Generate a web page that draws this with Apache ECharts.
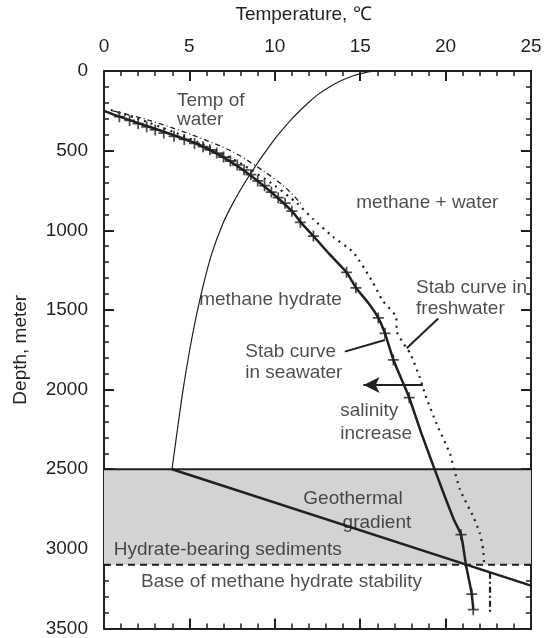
<!DOCTYPE html>
<html><head><meta charset="utf-8">
<script src="https://cdn.jsdelivr.net/npm/echarts@6/dist/echarts.min.js"></script>
<style>html,body{margin:0;padding:0;background:#fff}#c{width:552px;height:638px}</style>
</head><body><div id="c"></div>
<script>
// ---- data (temperature °C, depth m) ----
const waterTemp = [[15.9,0],[15.3,10],[14.6,30],[13.9,60],[13.2,100],[12.5,150],[11.85,210],[11.0,300],[10.2,400],[9.5,500],[8.85,600],[8.25,700],[7.6,820],[6.95,960],[6.3,1150],[5.8,1350],[5.38,1550],[5.02,1750],[4.63,2000],[4.3,2250],[3.98,2500]];
const seawaterCurve = [[0,250],[1,290],[2.5,345],[4,400],[5.5,460],[6.8,530],[8,610],[9,690],[10,780],[11,880],[11.6,960],[12.26,1036],[13.2,1150],[14.2,1264],[14.75,1361],[15.5,1460],[16.06,1550],[16.45,1647],[16.94,1813],[17.4,1930],[17.87,2051],[18.6,2280],[19.38,2507],[19.96,2673],[20.5,2820],[20.9,2911],[21.2,3104],[21.53,3284],[21.62,3382]];
const seawaterMarks = [[0.9,287],[1.5,310],[2.0,330],[2.5,350],[3.0,370],[3.5,390],[4.1,410],[4.7,430],[5.3,455],[5.8,475],[6.2,495],[6.6,515],[7.0,540],[7.4,565],[7.8,590],[8.2,620],[8.6,650],[9.0,690],[9.4,720],[9.8,760],[10.2,795],[10.6,830],[11.0,880],[11.5,950],[12.26,1036],[14.2,1264],[14.75,1361],[16.06,1550],[16.45,1647],[16.94,1813],[17.87,2051],[20.9,2911],[21.53,3284],[21.62,3382]];
const freshwaterCurve = [[0.4,245],[2,300],[4,380],[6,470],[8,580],[10,720],[11.3,830],[12.26,932],[13.4,1040],[14.6,1139],[15.7,1320],[16.3,1440],[17.1,1544],[17.15,1640],[17.72,1741],[17.93,1772],[18.5,1927],[18.8,2031],[19.48,2217],[20.26,2404],[20.5,2500],[20.85,2630],[21.62,2798],[22.0,2901],[22.2,3005],[22.25,3090]];
const freshwaterTail = [[22.6,3150],[22.6,3400]];
const upperDashDot = [[0.5,250],[2.5,305],[5,395],[7.5,505],[9.3,625],[10.6,730],[11.6,840]];
const hydrateZone = [2500, 3100];
const topLine = [[0,2500],[25,2500]];
const baseLine = [[0,3100],[25,3100]];
const geothermal = [[3.98,2500],[25,3231]];
const salinityArrow = [[18.65,1972],[15.2,1972]];
const seaPointer = [[14.1,1762],[16.45,1689]];
const freshPointer = [[19.57,1554],[17.72,1741]];
const labelTexts = ["Temp of","water","methane + water","methane hydrate","Stab curve","in seawater","Stab curve in","freshwater","salinity","increase","Geothermal","gradient","Hydrate-bearing sediments","Base of methane hydrate stability"];
const labelPos = [[4.3,190],[4.3,312],[14.8,830],[5.6,1437],[8.3,1765],[8.3,1900],[18.3,1365],[18.3,1495],[13.86,2135],[13.86,2280],[11.7,2690],[14.0,2838],[0.6,3010],[2.2,3212]];

const INK = '#231f20';
const FONT = 'Liberation Sans, Arial, Helvetica, sans-serif';
const plus = 'path://M4.2,0 L5.8,0 L5.8,4.2 L10,4.2 L10,5.8 L5.8,5.8 L5.8,10 L4.2,10 L4.2,5.8 L0,5.8 L0,4.2 L4.2,4.2 Z';

function axisCommon(showLabel){
  return {
    type:'value', min:0, splitLine:{show:false},
    axisLine:{show:true, onZero:false, lineStyle:{color:INK, width:2}},
    axisTick:{show:true, inside:true, length:10, lineStyle:{color:INK, width:2}},
    minorTick:{show:true, splitNumber:5, length:5, lineStyle:{color:INK, width:1.5}},
    axisLabel:{show:showLabel, color:INK, fontSize:19, fontFamily:FONT, formatter:v=>String(v)}
  };
}
const xTop = Object.assign(axisCommon(true), {position:'top', max:25, interval:5,
  name:'Temperature, ℃', nameLocation:'middle', nameGap:47,
  nameTextStyle:{color:INK, fontSize:19, fontFamily:FONT, padding:[0,28,0,0]}});
xTop.axisLabel.margin = 15;
const xBottom = Object.assign(axisCommon(false), {position:'bottom', max:25, interval:5});
const yLeft = Object.assign(axisCommon(true), {position:'left', inverse:true, max:3500, interval:500,
  name:'Depth, meter', nameLocation:'middle', nameGap:74, nameRotate:90,
  nameTextStyle:{color:INK, fontSize:19, fontFamily:FONT}});
yLeft.axisLabel.margin = 16;
const yRight = Object.assign(axisCommon(false), {position:'right', inverse:true, max:3500, interval:500});

function lineSeries(data, style, extra){
  return Object.assign({type:'line', data:data, symbol:'none', silent:true, animation:false,
    lineStyle:Object.assign({color:INK}, style)}, extra||{});
}

const chart = echarts.init(document.getElementById('c'), null, {renderer:'canvas'});
chart.setOption({
  animation:false,
  grid:{left:104, right:21, top:70, bottom:5, containLabel:false},
  xAxis:[xTop, xBottom],
  yAxis:[yLeft, yRight],
  series:[
    {type:'line', data:[], markArea:{silent:true, itemStyle:{color:'#d2d3d5'},
      data:[[{yAxis:hydrateZone[0]},{yAxis:hydrateZone[1]}]]}},
    lineSeries(topLine, {width:2}),
    lineSeries(baseLine, {width:2, type:[7,5]}),
    lineSeries(waterTemp, {width:1.2}, {smooth:0.3}),
    lineSeries(upperDashDot, {width:1.3, type:[5,3,1,3]}, {smooth:0.3}),
    lineSeries(freshwaterCurve, {width:2.2, type:[2,5]}, {smooth:0.2}),
    lineSeries(freshwaterTail, {width:2.2, type:[6,3,2,3]}),
    lineSeries(seawaterCurve, {width:2.5}, {smooth:0.2}),
    lineSeries(geothermal, {width:2.5}),
    lineSeries(seaPointer, {width:2}),
    lineSeries(freshPointer, {width:2}),
    {type:'line', data:salinityArrow, silent:true, symbol:'none', lineStyle:{color:INK,width:2},
      markLine:{silent:true, symbol:['none','arrow'], symbolSize:[12,16], label:{show:false},
        lineStyle:{color:INK, width:2, type:'solid'},
        data:[[{coord:salinityArrow[0]},{coord:salinityArrow[1]}]]}},
    {type:'scatter', data:seawaterMarks, symbol:plus, symbolSize:11, silent:true,
      itemStyle:{color:INK}},
    {type:'scatter', silent:true, symbolSize:1, itemStyle:{color:'rgba(0,0,0,0)'},
      data:labelPos.map((p,i)=>({value:p, name:labelTexts[i]})),
      label:{show:true, position:[0,0], align:'left', verticalAlign:'middle',
        formatter:p=>p.name, color:INK, fontSize:19, fontFamily:FONT}}
  ]
});
</script></body></html>
